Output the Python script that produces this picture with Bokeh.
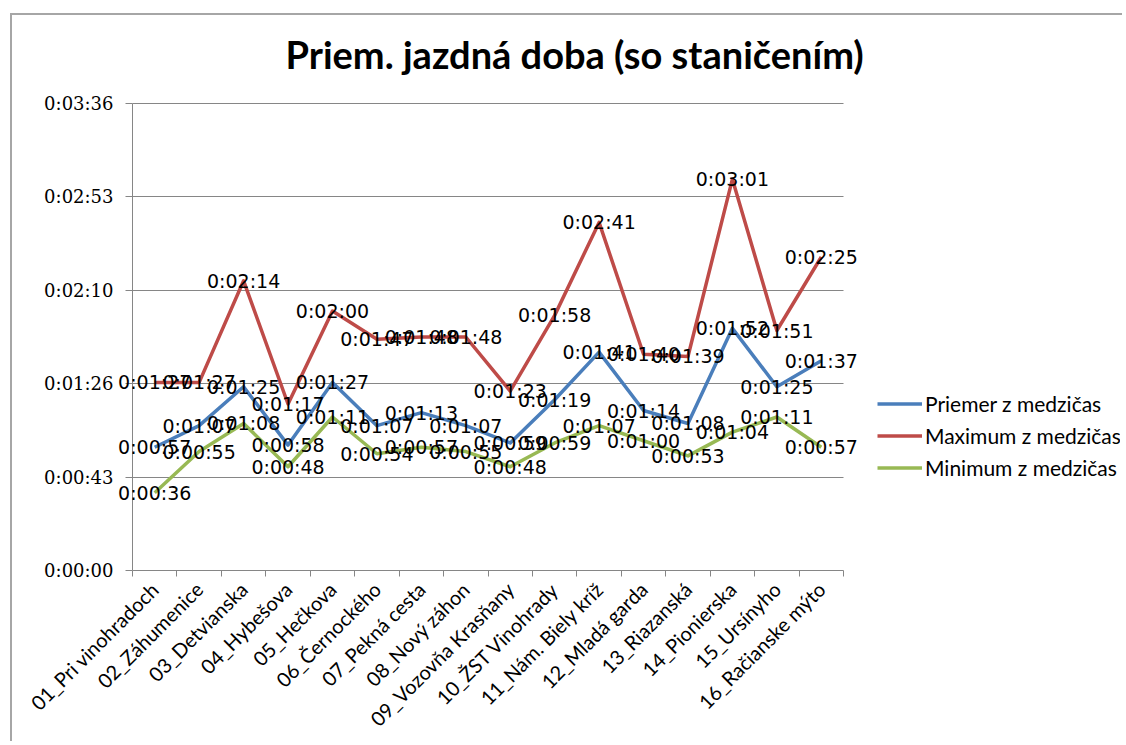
import math
from bokeh.plotting import figure
from bokeh.models import (ColumnDataSource, FixedTicker, LinearAxis, Range1d,
                          Legend, LegendItem, LabelSet, Label, Grid)
from bokeh.core.properties import value
from bokeh.embed import file_html
from bokeh.resources import INLINE

# ---------------- data ----------------
stations = [
    "01_Pri vinohradoch", "02_Záhumenice", "03_Detvianska", "04_Hybešova",
    "05_Hečkova", "06_Černockého", "07_Pekná cesta", "08_Nový záhon",
    "09_Vozovňa Krasňany", "10_ŽST Vinohrady", "11_Nám. Biely kríž",
    "12_Mladá garda", "13_Riazanská", "14_Pionierska", "15_Ursínyho",
    "16_Račianske mýto",
]
# seconds
avg_s = [57, 67, 85, 58, 87, 67, 73, 67, 59, 79, 101, 74, 68, 112, 85, 97]
max_s = [87, 87, 134, 77, 120, 107, 108, 108, 83, 118, 161, 100, 99, 181, 111, 145]
min_s = [36, 55, 68, 48, 71, 54, 57, 55, 48, 59, 67, 60, 53, 64, 71, 57]

series_names = ["Priemer z medzičas", "Maximum z medzičas", "Minimum z medzičas"]
series_colors = ["#4A7EBB", "#BE4B48", "#98B954"]

y_ticks = [0, 43.2, 86.4, 129.6, 172.8, 216]
y_tick_labels = ["0:00:00", "0:00:43", "0:01:26", "0:02:10", "0:02:53", "0:03:36"]

title_text = "Priem. jazdná doba (so staničením)"


def hms(sec):
    sec = int(round(sec))
    return "%d:%02d:%02d" % (sec // 3600, (sec % 3600) // 60, sec % 60)


N = len(stations)
Y_MAX = y_ticks[-1]
AXIS_GREY = "#868686"

# ---------------- layout (pixels, canvas coordinates) ----------------
PX_PER_CAT = 711 / 16.0          # category width in px
PX_PER_SEC = 467 / 216.0         # px per second
W, H = 1112, 728
AXIS_X = 120                     # canvas x of the value axis line
FRAME_LEFT = 100
FRAME_RIGHT = 1108
FRAME_TOP = 15
FRAME_BOTTOM = 555
GAP = AXIS_X - FRAME_LEFT
X_START = -GAP / PX_PER_CAT
X_END = (FRAME_RIGHT - AXIS_X) / PX_PER_CAT
Y_TOP = (FRAME_BOTTOM - FRAME_TOP) / PX_PER_SEC

x = [i + 0.5 for i in range(N)]
src = ColumnDataSource(dict(
    x=x, avg=avg_s, mx=max_s, mn=min_s,
    avg_lbl=[hms(v) for v in avg_s],
    mx_lbl=[hms(v) for v in max_s],
    mn_lbl=[hms(v) for v in min_s],
))

p = figure(width=W, height=H,
           x_range=Range1d(X_START, X_END), y_range=Range1d(0, Y_TOP),
           x_axis_type=None, y_axis_type=None,
           output_backend="svg", toolbar_location=None,
           min_border_left=FRAME_LEFT, min_border_right=W - FRAME_RIGHT,
           min_border_top=FRAME_TOP, min_border_bottom=H - FRAME_BOTTOM)
p.outline_line_color = None
p.background_fill_color = "white"
p.border_fill_color = "white"
p.styles = {"margin-left": "10px", "margin-top": "13px",
            "border-top": "2px solid #a6a6a6", "border-left": "2px solid #a6a6a6"}

# y axis: sits at the frame edge; its ticks are shifted to the value-axis line
TICK_LEN = 7
yaxis = LinearAxis(ticker=FixedTicker(ticks=y_ticks, minor_ticks=[]),
                   major_label_overrides={t: l for t, l in zip(y_ticks, y_tick_labels)})
yaxis.axis_line_color = None
yaxis.major_tick_line_color = AXIS_GREY
yaxis.major_tick_out = -(GAP - TICK_LEN)
yaxis.major_tick_in = GAP
yaxis.minor_tick_out = -(GAP - TICK_LEN)
yaxis.minor_tick_in = 0
yaxis.minor_tick_line_color = None
yaxis.major_label_text_font = "DejaVu Serif"
yaxis.major_label_text_font_size = "18px"
yaxis.major_label_text_color = "#000000"
yaxis.major_label_standoff = -1
p.add_layout(yaxis, "left")

# value-axis line along the first category boundary
p.segment(x0=[0], y0=[0], x1=[0], y1=[Y_MAX], line_color=AXIS_GREY, line_width=1)

grid = Grid(dimension=1, ticker=yaxis.ticker, grid_line_color=AXIS_GREY)
if "cross_bounds" in Grid.properties():
    grid.cross_bounds = (0, N)
    p.add_layout(grid)
else:
    p.segment(x0=0, x1=N, y0=y_ticks, y1=y_ticks, line_color=AXIS_GREY, line_width=1)

# x axis
xaxis = LinearAxis(ticker=FixedTicker(ticks=x, minor_ticks=list(range(N + 1))),
                   major_label_overrides={xi: s for xi, s in zip(x, stations)},
                   bounds=(0, N))
xaxis.axis_line_color = AXIS_GREY
xaxis.major_tick_line_color = None
xaxis.major_tick_out = 0
xaxis.major_tick_in = 0
xaxis.minor_tick_line_color = AXIS_GREY
xaxis.minor_tick_out = 6
xaxis.minor_tick_in = 0
xaxis.major_label_orientation = math.pi / 4
xaxis.major_label_text_font = "Lato"
xaxis.major_label_text_font_size = "20px"
xaxis.major_label_text_color = "#000000"
xaxis.major_label_standoff = 9
p.add_layout(xaxis, "below")

cols = ["avg", "mx", "mn"]
renderers = []
for c, col in zip(cols, series_colors):
    r = p.line("x", c, source=src, line_color=col, line_width=3.5, line_join="round")
    renderers.append(r)

for c in cols:
    ls = LabelSet(x="x", y=c, text=c + "_lbl", source=src,
                  text_align="center", text_baseline="middle",
                  text_font=value("DejaVu Sans"), text_font_size="19px",
                  text_color="#000000")
    p.add_layout(ls)

legend = Legend(items=[LegendItem(label=n, renderers=[r]) for n, r in zip(series_names, renderers)],
                location=(765, 90))
legend.glyph_width = 45
legend.glyph_height = 25
legend.label_height = 25
legend.label_standoff = 3
legend.spacing = 7
legend.padding = 0
legend.margin = 0
legend.border_line_color = None
legend.background_fill_alpha = 0
legend.label_text_font = "Lato"
legend.label_text_font_size = "21px"
legend.label_text_color = "#000000"
p.add_layout(legend)

title = Label(x=9.95, y=238.8, text=title_text, text_align="center", text_baseline="middle",
              text_font="Lato", text_font_style="bold", text_font_size="38px",
              text_color="#000000")
p.add_layout(title)

open("out.html", "w").write(file_html(p, INLINE))
